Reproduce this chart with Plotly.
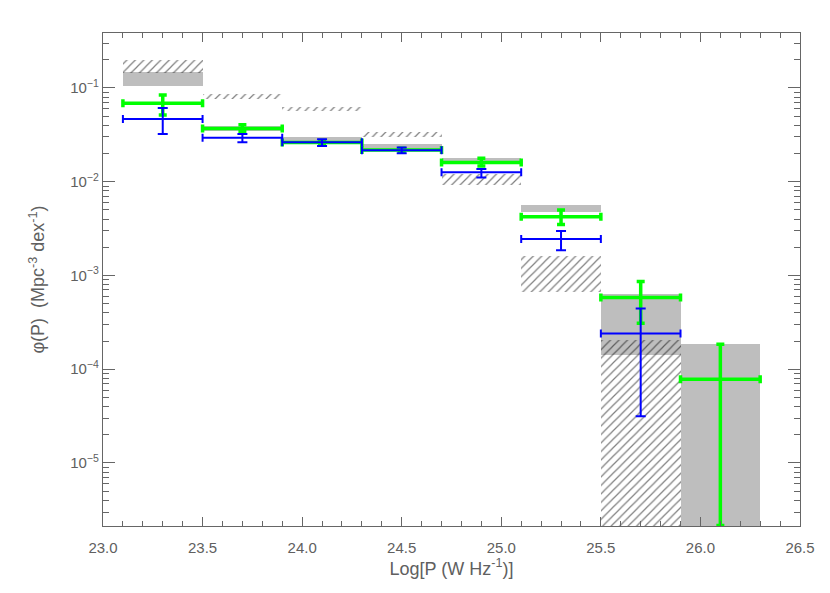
import numpy as np
import plotly.graph_objects as go

# bin centres in Log P (bin width 0.4)
logp = [23.3, 23.7, 24.1, 24.5, 24.9, 25.3, 25.7, 26.1]
bin_w = 0.4

# green sample
green = [0.0687, 0.037, 0.0262, 0.0218, 0.016, 0.00423, 5.83e-4, 7.8e-5]
green_hi = [0.084, 0.0405, 0.0275, 0.0228, 0.0178, 0.0050, 8.6e-4, 1.85e-4]
green_lo = [0.0515, 0.034, 0.0248, 0.0208, 0.0147, 0.0035, 3.1e-4, 2.15e-6]

# blue sample (no last bin)
blue_x = logp[:7]
blue = [0.0467, 0.0295, 0.0263, 0.0216, 0.0126, 0.00245, 2.4e-4]
blue_hi = [0.0612, 0.0323, 0.0283, 0.0231, 0.0137, 0.00298, 4.45e-4]
blue_lo = [0.0323, 0.0263, 0.0240, 0.0201, 0.0111, 0.00186, 3.15e-5]

# grey boxes (top / bottom)
grey_top = [0.148, 0.0397, 0.0298, 0.0250, 0.0177, 0.0056, 6.3e-4, 1.88e-4]
grey_bot = [0.105, 0.0350, 0.0262, 0.0216, 0.0158, 0.0047, 1.435e-4, 1e-6]

# hatched boxes (top / bottom), first 7 bins
hatch_x = logp[:7]
hatch_top = [0.200, 0.0869, 0.0632, 0.0342, 0.0122, 0.00163, 2.07e-4]
hatch_bot = [0.146, 0.0769, 0.0573, 0.0303, 0.0093, 0.00066, 1e-6]

fig = go.Figure()

fig.add_trace(go.Bar(
    x=logp, base=grey_bot,
    y=[t - b for t, b in zip(grey_top, grey_bot)],
    width=bin_w, marker=dict(color='#bebebe', line=dict(width=0)),
    showlegend=False))

fig.add_trace(go.Bar(
    x=hatch_x, base=hatch_bot,
    y=[t - b for t, b in zip(hatch_top, hatch_bot)],
    width=bin_w,
    marker=dict(color='rgba(0,0,0,0)', line=dict(width=0),
                pattern=dict(shape='/', fgcolor='#000000', bgcolor='rgba(0,0,0,0)',
                             size=6, solidity=0.2, fillmode='overlay')),
    showlegend=False))

fig.add_trace(go.Scatter(
    x=logp, y=green, mode='markers',
    marker=dict(color='#00ff00', size=1),
    error_x=dict(type='constant', value=bin_w / 2, color='#00ff00', thickness=3.5, width=4),
    error_y=dict(type='data', symmetric=False,
                 array=[h - g for h, g in zip(green_hi, green)],
                 arrayminus=[g - l for g, l in zip(green, green_lo)],
                 color='#00ff00', thickness=3.5, width=4),
    showlegend=False))

fig.add_trace(go.Scatter(
    x=blue_x, y=blue, mode='markers',
    marker=dict(color='#0000ff', size=1),
    error_x=dict(type='constant', value=bin_w / 2, color='#0000ff', thickness=2, width=4),
    error_y=dict(type='data', symmetric=False,
                 array=[h - b for h, b in zip(blue_hi, blue)],
                 arrayminus=[b - l for b, l in zip(blue, blue_lo)],
                 color='#0000ff', thickness=2, width=5),
    showlegend=False))

ymaj = [1e-5, 1e-4, 1e-3, 1e-2, 1e-1]
ytext = ['10<sup>−5</sup>', '10<sup>−4</sup>', '10<sup>−3</sup>', '10<sup>−2</sup>', '10<sup>−1</sup>']
yminor = [m * 10.0 ** e for e in range(-6, 0) for m in range(2, 10)]

axcol = '#666666'
fig.update_layout(
    width=830, height=593,
    margin=dict(l=95, r=38, t=25, b=75),
    plot_bgcolor='white', paper_bgcolor='white',
    barmode='overlay', bargap=0,
    font=dict(family='Liberation Sans', size=15, color='#606060'),
    xaxis=dict(range=[23.0, 26.5], tickvals=[23.0, 23.5, 24.0, 24.5, 25.0, 25.5, 26.0, 26.5],
               ticktext=['23.0', '23.5', '24.0', '24.5', '25.0', '25.5', '26.0', '26.5'],
               ticks='inside', ticklen=9, tickcolor=axcol, showgrid=False, zeroline=False,
               showline=True, linecolor=axcol, linewidth=1.3, mirror='ticks', automargin=False,
               ticklabelstandoff=8,
               minor=dict(dtick=0.1, tick0=23.0, ticks='inside', ticklen=5, tickcolor=axcol),
               title=dict(text='Log[P (W Hz<sup>-1</sup>)]', standoff=4)),
    yaxis=dict(type='log', range=[-5.672, -0.414], tickmode='array', tickvals=ymaj, ticktext=ytext,
               ticks='inside', ticklen=12, tickcolor=axcol, showgrid=False, zeroline=False,
               showline=True, linecolor=axcol, linewidth=1.3, mirror='ticks', automargin=False,
               minor=dict(tickmode='array', tickvals=yminor, ticks='inside', ticklen=6, tickcolor=axcol),
               title=dict(text='φ(P)  (Mpc<sup>-3</sup> dex<sup>-1</sup>)', standoff=20)),
)

fig.write_html("out.html")
